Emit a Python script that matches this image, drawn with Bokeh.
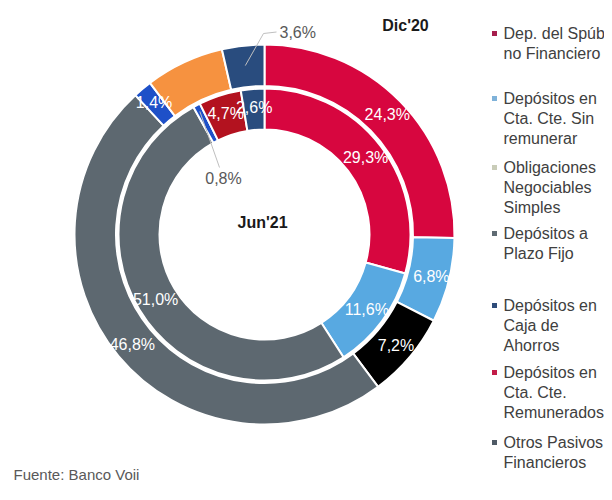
import numpy as np
from bokeh.plotting import figure
from bokeh.models import Range1d, ColumnDataSource
from bokeh.embed import file_html
from bokeh.resources import INLINE
from bokeh.core.properties import value

# ---------------- data ----------------
# Outer ring (Dic'20), clockwise from 12 o'clock
outer_values = [25.3, 7.2, 7.3, 48.3, 1.6, 6.7, 3.6]
outer_labels = ["24,3%", "6,8%", "7,2%", "46,8%", "1,4%", "", "3,6%"]
outer_colors = ["#D7063F", "#58A9E1", "#000000", "#5D6870", "#1E50C8", "#F69240", "#294C7E"]

# Inner ring (Jun'21), clockwise from 12 o'clock
inner_values = [29.3, 11.6, 51.0, 0.8, 4.7, 2.6]
inner_labels = ["29,3%", "11,6%", "51,0%", "0,8%", "4,7%", "2,6%"]
inner_colors = ["#D7063F", "#58A9E1", "#5D6870", "#1E50C8", "#B3121F", "#294C7E"]

legend_items = [
    "Dep. del Spúb\nno Financiero",
    "Depósitos en\nCta. Cte. Sin\nremunerar",
    "Obligaciones\nNegociables\nSimples",
    "Depósitos a\nPlazo Fijo",
    "Depósitos en\nCaja de\nAhorros",
    "Depósitos en\nCta. Cte.\nRemunerados",
    "Otros Pasivos\nFinancieros",
]
legend_colors = ["#A61E4D", "#7FB2D9", "#C9CCB8", "#5F6B73", "#2E4C7A", "#C21C48", "#4F5A66"]

source_text = "Fuente: Banco Voii"

# ---------------- layout ----------------
W, H = 604, 484
FONT = value("Liberation Sans")


def iy(img_y):
    # picture y (from top) -> data y
    return 500 - img_y


CX, CY = 264, iy(234)
R_OUT, R_SEP_O, R_SEP_I, R_IN = 190, 148.5, 146, 105

p = figure(width=W, height=H, output_backend="svg", toolbar_location=None,
           x_range=Range1d(0, W), y_range=Range1d(500 - H, 500),
           min_border=0, outline_line_color=None)
p.axis.visible = False
p.grid.visible = False
p.background_fill_color = "white"
p.border_fill_color = "white"


def ring(values, colors, r0, r1):
    v = np.array(values, dtype=float)
    frac = v / v.sum()
    cum = np.concatenate([[0], np.cumsum(frac)])
    start = np.pi / 2 - 2 * np.pi * cum[:-1]
    end = np.pi / 2 - 2 * np.pi * cum[1:]
    src = ColumnDataSource(dict(start=start, end=end, color=colors,
                                x=[CX] * len(v), y=[CY] * len(v)))
    p.annular_wedge(x="x", y="y", inner_radius=r0, outer_radius=r1,
                    start_angle="start", end_angle="end", direction="clock",
                    fill_color="color", line_color="white", line_width=2, source=src)
    return np.pi / 2 - 2 * np.pi * (cum[:-1] + cum[1:]) / 2


mid_o = ring(outer_values, outer_colors, R_SEP_O, R_OUT)
mid_i = ring(inner_values, inner_colors, R_IN, R_SEP_I)

# in-ring labels
r_lab_o, r_lab_i = 172, 127
lx, ly, lt = [], [], []
for m, t in zip(mid_o, outer_labels):
    if t and t != "3,6%":
        lx.append(CX + r_lab_o * np.cos(m)); ly.append(CY + r_lab_o * np.sin(m)); lt.append(t)
for m, t in zip(mid_i, inner_labels):
    if t != "0,8%":
        lx.append(CX + r_lab_i * np.cos(m)); ly.append(CY + r_lab_i * np.sin(m)); lt.append(t)
p.text(x=lx, y=ly, text=lt, text_font=FONT, text_font_size="16px", text_color="white",
       text_align="center", text_baseline="middle")

# callout for 3,6% (outer navy)
m36 = mid_o[outer_labels.index("3,6%")]
sx, sy = CX + 170 * np.cos(m36), CY + 170 * np.sin(m36)
p.line(x=[sx, 263, 276], y=[sy, iy(33), iy(31.5)], line_color="#BFBFBF", line_width=1)
p.text(x=[279], y=[iy(32)], text=["3,6%"], text_font=FONT, text_font_size="16px",
       text_color="#595959", text_align="left", text_baseline="middle")

# callout for 0,8% (inner blue)
m08 = mid_i[inner_labels.index("0,8%")]
sx, sy = CX + 139 * np.cos(m08), CY + 139 * np.sin(m08)
p.line(x=[sx, 219], y=[sy, iy(167)], line_color="#BFBFBF", line_width=1)
p.text(x=[223], y=[iy(178)], text=["0,8%"], text_font=FONT, text_font_size="16px",
       text_color="#595959", text_align="center", text_baseline="middle")

# titles
p.text(x=[405], y=[iy(25)], text=["Dic'20"], text_font=FONT, text_font_size="16px",
       text_font_style="bold", text_color="#1A1A1A", text_align="center", text_baseline="middle")
p.text(x=[262], y=[iy(222)], text=["Jun'21"], text_font=FONT, text_font_size="16px",
       text_font_style="bold", text_color="#1A1A1A", text_align="center", text_baseline="middle")

# legend
item_tops = [33, 98, 167, 233, 305, 372, 442]
line_gap = 20
tx, ty, tt = [], [], []
for top, item in zip(item_tops, legend_items):
    for k, line in enumerate(item.split("\n")):
        tx.append(503); ty.append(iy(top + k * line_gap)); tt.append(line)
p.text(x=tx, y=ty, text=tt, text_font=FONT, text_font_size="16px", text_color="#404040",
       text_align="left", text_baseline="middle")
p.scatter(x=[494] * len(item_tops), y=[iy(t) for t in item_tops], marker="square", size=5,
          fill_color=legend_colors, line_color=None)

# source
p.text(x=[13], y=[iy(474)], text=[source_text], text_font=FONT, text_font_size="15px",
       text_color="#595959", text_align="left", text_baseline="middle")

open("out.html", "w").write(file_html(p, INLINE))
